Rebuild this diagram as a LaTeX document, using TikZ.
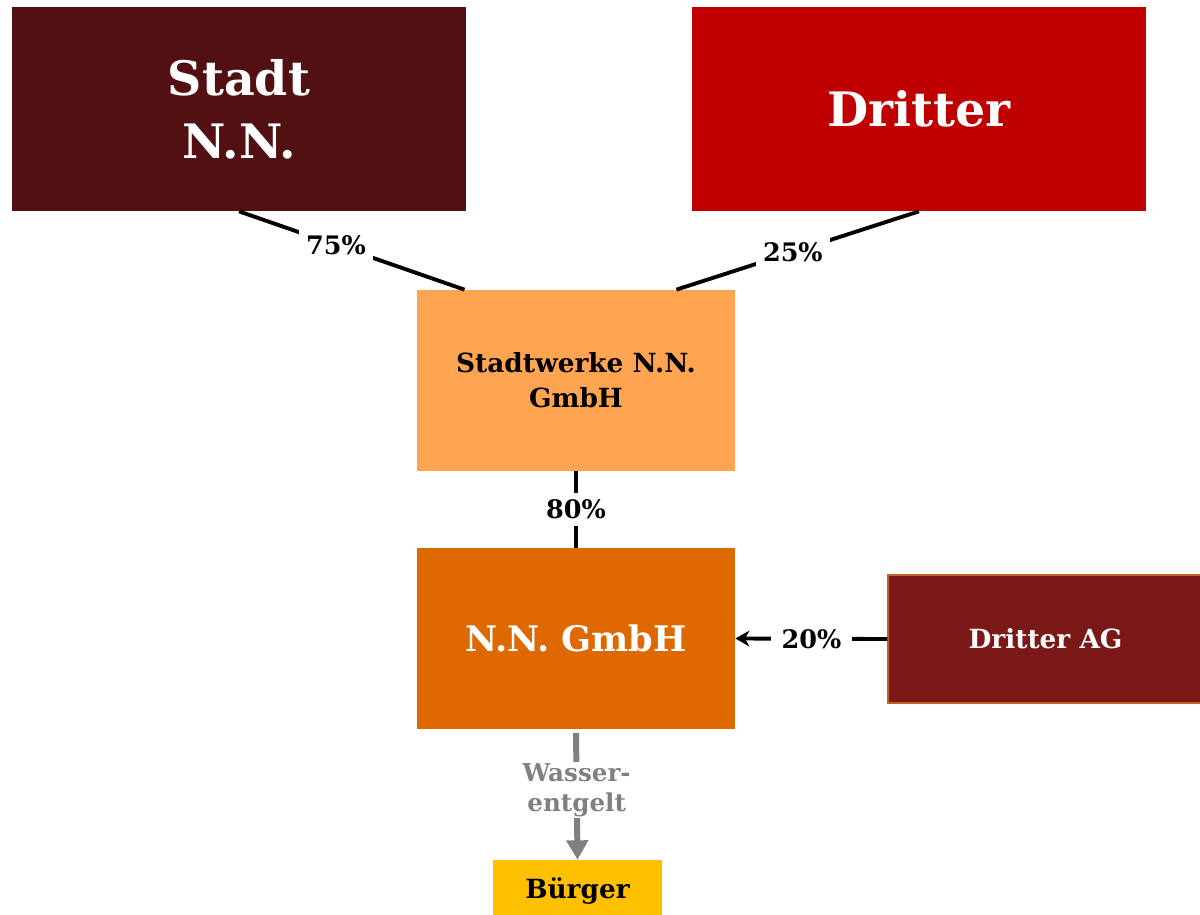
\documentclass[tikz,border=0pt]{standalone}
\usepackage{fontspec}
\setmainfont{DejaVu Serif}
\usetikzlibrary{arrows.meta,positioning,calc}
\definecolor{stadtred}{RGB}{82, 16, 19}
\definecolor{dritterred}{RGB}{192, 0, 0}
\definecolor{werkeorange}{RGB}{255, 165, 82}
\definecolor{gmbhorange}{RGB}{221, 105, 0}
\definecolor{agred}{RGB}{123, 24, 24}
\definecolor{agborder}{RGB}{190, 100, 40}
\definecolor{buergeryellow}{RGB}{255, 192, 0}
\definecolor{flowgray}{RGB}{128, 128, 128}

\begin{document}
\begin{tikzpicture}[
    box/.style={inner sep=0pt, align=center, font=\bfseries},
    share/.style={line width=2.2pt, black},
    pct/.style={fill=white, inner sep=4pt, font=\fontsize{14.5}{18}\selectfont\bfseries}
]
\useasboundingbox (0,0) rectangle (24,-18.28);

% Owners
\node[box, fill=stadtred, text=white, minimum width=9.08cm, minimum height=4.08cm,
      font=\fontsize{27}{36}\selectfont\bfseries] (stadt) at (4.78,-2.18) {Stadt\\N.N.};
\node[box, fill=dritterred, text=white, minimum width=9.08cm, minimum height=4.08cm,
      font=\fontsize{27}{36}\selectfont\bfseries] (dritter) at (18.38,-2.18) {Dritter};

% Stadtwerke
\node[box, fill=werkeorange, minimum width=6.36cm, minimum height=3.62cm,
      font=\fontsize{15}{20}\selectfont\bfseries] (werke) at (11.52,-7.61) {Stadtwerke N.N.\\GmbH};

% Operating company
\node[box, fill=gmbhorange, text=white, minimum width=6.36cm, minimum height=3.62cm,
      font=\fontsize{20}{26}\selectfont\bfseries] (gmbh) at (11.52,-12.77) {N.N. GmbH};

\node[box, fill=agred, draw=agborder, line width=0.6pt, text=white, minimum width=6.3cm, minimum height=2.56cm,
      font=\fontsize{15}{18}\selectfont\bfseries] (ag) at (20.91,-12.78) {Dritter AG};

% Customers
\node[box, fill=buergeryellow, minimum width=3.38cm, minimum height=1.24cm,
      font=\fontsize{15}{18}\selectfont\bfseries] (buerger) at (11.55,-17.82) {Bürger};

% Shares
\draw[share] (stadt.south) -- node[pct, pos=0.43] {75\%} ($(werke.north west)!0.15!(werke.north east)$);
\draw[share] (dritter.south) -- node[pct, pos=0.52] {25\%} ($(werke.north west)!0.815!(werke.north east)$);
\draw[share] (werke.south) -- node[pct] {80\%} (gmbh.north);
\draw[share, -{Stealth[length=8pt, width=9pt]}] (ag.west) -- node[pct, inner sep=6pt] {20\%} (gmbh.east);

% Water charge
\draw[line width=3.4pt, flowgray, -{Triangle[length=11pt, width=12pt]}] ([yshift=-2pt]gmbh.south) --
    node[fill=white, text=flowgray, inner sep=1pt, pos=0.45, align=center, font=\fontsize{14}{17}\selectfont\bfseries] {Wasser-\\entgelt} (buerger.north);

\end{tikzpicture}
\end{document}
